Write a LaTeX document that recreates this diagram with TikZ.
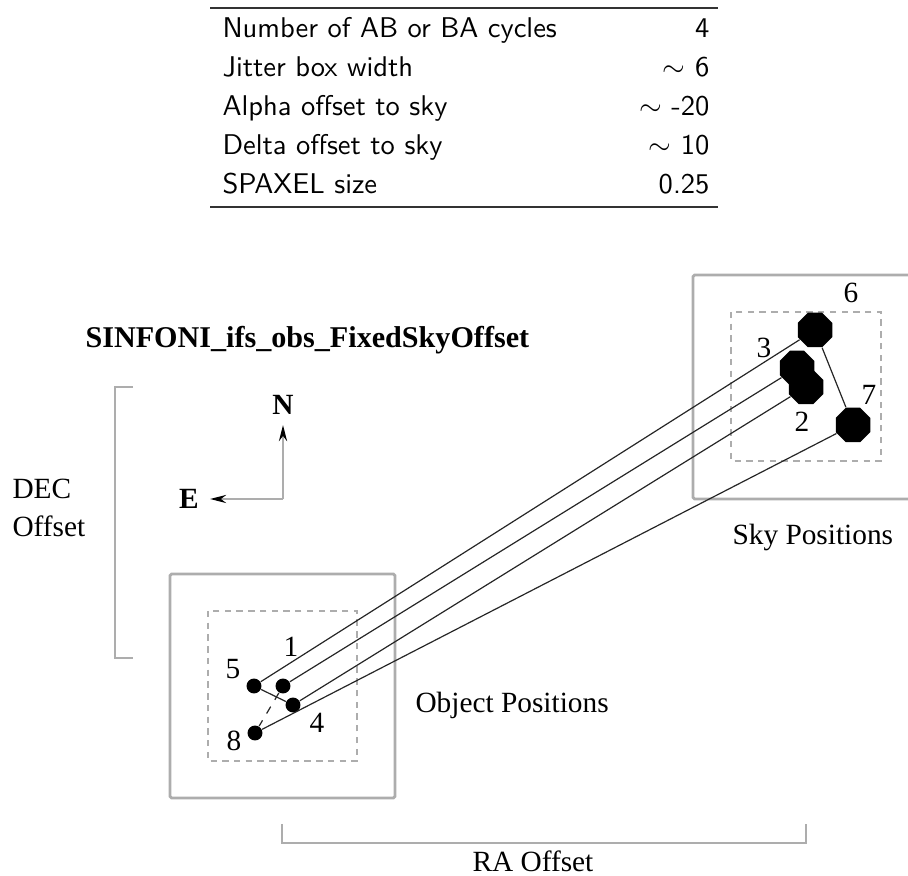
\documentclass[tikz,border=0pt]{standalone}
\usepackage{fontspec}
\setmainfont{Liberation Serif}
\usetikzlibrary{shapes.geometric,arrows.meta}
\definecolor{boxgray}{gray}{0.68}
\tikzset{
  graybox/.style={draw=boxgray,line width=1.1pt,rounded corners=0.6pt},
  jitterbox/.style={draw=boxgray,line width=1.1pt,dash pattern=on 2.4pt off 2pt},
  objdot/.style={circle,fill=black,inner sep=0pt,minimum size=5.6pt},
  skydot/.style={regular polygon,regular polygon sides=8,fill=black,inner sep=0pt,minimum size=14pt},
  conn/.style={draw=black!85,line width=0.45pt},
  lab/.style={font=\fontsize{11}{13}\selectfont,inner sep=0pt},
  tab/.style={font=\sffamily\fontsize{10.7}{12}\selectfont,inner sep=0pt},
  bracket/.style={draw=boxgray,line width=1.1pt},
  compass/.style={draw=boxgray,line width=1.1pt,-{Stealth[length=6pt,width=3pt,color=black]}}
}
\begin{document}
\begin{tikzpicture}[x=0.375pt,y=-0.375pt]
\useasboundingbox (0,0) rectangle (908,876);
% table
\coordinate (tl) at (210,8); \coordinate (tr) at (718,8);
\coordinate (bl) at (210,207); \coordinate (br) at (718,207);
\draw[line width=0.45pt,black!80] (tl) -- (tr);
\draw[line width=0.45pt,black!80] (bl) -- (br);
\node[tab,anchor=base west] (r1) at (222,38) {Number of AB or BA cycles};
\node[tab,anchor=base east] (v1) at (710,38) {4};
\node[tab,anchor=base west] (r2) at (222,77) {Jitter box width};
\node[tab,anchor=base east] (v2) at (710,77) {$\sim$ 6};
\node[tab,anchor=base west] (r3) at (222,116) {Alpha offset to sky};
\node[tab,anchor=base east] (v3) at (710,116) {$\sim$ -20};
\node[tab,anchor=base west] (r4) at (222,155) {Delta offset to sky};
\node[tab,anchor=base east] (v4) at (710,155) {$\sim$ 10};
\node[tab,anchor=base west] (r5) at (222,194) {SPAXEL size};
\node[tab,anchor=base east] (v5) at (710,194) {0.25};
% title
\node[inner sep=0pt,anchor=base west,font=\bfseries\fontsize{11.3}{13}\selectfont] (title) at (85,348) {SINFONI\_ifs\_obs\_FixedSkyOffset};
% DEC bracket
\coordinate (d1) at (133,387); \coordinate (d2) at (115,387);
\coordinate (d3) at (115,658); \coordinate (d4) at (133,658);
\draw[bracket] (d1) -- (d2) -- (d3) -- (d4);
\node[lab,anchor=base west] (dec) at (12,499) {DEC};
\node[lab,anchor=base west] (off) at (12,537) {Offset};
% compass
\coordinate (cc) at (283,499);
\coordinate (ntip) at (283,425);
\coordinate (etip) at (210,499);
\draw[compass] (cc) -- (ntip);
\draw[compass] (cc) -- (etip);
\node[lab,font=\bfseries\fontsize{11}{13}\selectfont] (N) at (283,405) {N};
\node[lab,font=\bfseries\fontsize{11}{13}\selectfont] (E) at (189,499) {E};
% object box
\draw[graybox] (170,574) rectangle (395,798);
\draw[jitterbox] (208,611) rectangle (357,761);
\node[lab,anchor=base west] (objlab) at (415,713) {Object Positions};
% sky box
\coordinate (sa) at (908,275); \coordinate (sb) at (693,275);
\coordinate (sc) at (693,499); \coordinate (sd) at (908,499);
\draw[graybox] (sa) -- (sb) -- (sc) -- (sd);
\draw[jitterbox] (731,312) rectangle (881,461);
\node[lab,anchor=base west] (skylab) at (732,545) {Sky Positions};
% RA bracket
\coordinate (ra1) at (282,824); \coordinate (ra2) at (282,843);
\coordinate (ra3) at (806,843); \coordinate (ra4) at (806,824);
\draw[bracket] (ra1) -- (ra2) -- (ra3) -- (ra4);
\node[lab,anchor=base west] (ralab) at (472,872) {RA Offset};
% object dots
\node[objdot] (o5) at (254,686) {};
\node[objdot] (o1) at (283,686) {};
\node[objdot] (o4) at (293,705) {};
\node[objdot] (o8) at (255,733) {};
\node[lab] (l5) at (233,669) {5};
\node[lab] (l1) at (291,647) {1};
\node[lab] (l4) at (317,723) {4};
\node[lab] (l8) at (234,741) {8};
% sky dots
\node[skydot] (s6) at (815,330) {};
\node[skydot] (s3) at (797,368) {};
\node[skydot] (s2) at (806,387) {};
\node[skydot] (s7) at (853,425) {};
\node[lab] (l6) at (851,293) {6};
\node[lab] (l3) at (764,348) {3};
\node[lab] (l2) at (802,422) {2};
\node[lab] (l7) at (869,395) {7};
% connectors
\draw[conn] (o5) -- (o4);
\draw[conn,dashed] (o1) -- (o8);
\draw[conn] (s6) -- (s7);
\draw[conn] (o5) -- (s6);
\draw[conn] (o1) -- (s3);
\draw[conn] (o4) -- (s2);
\draw[conn] (o8) -- (s7);
\end{tikzpicture}
\end{document}
